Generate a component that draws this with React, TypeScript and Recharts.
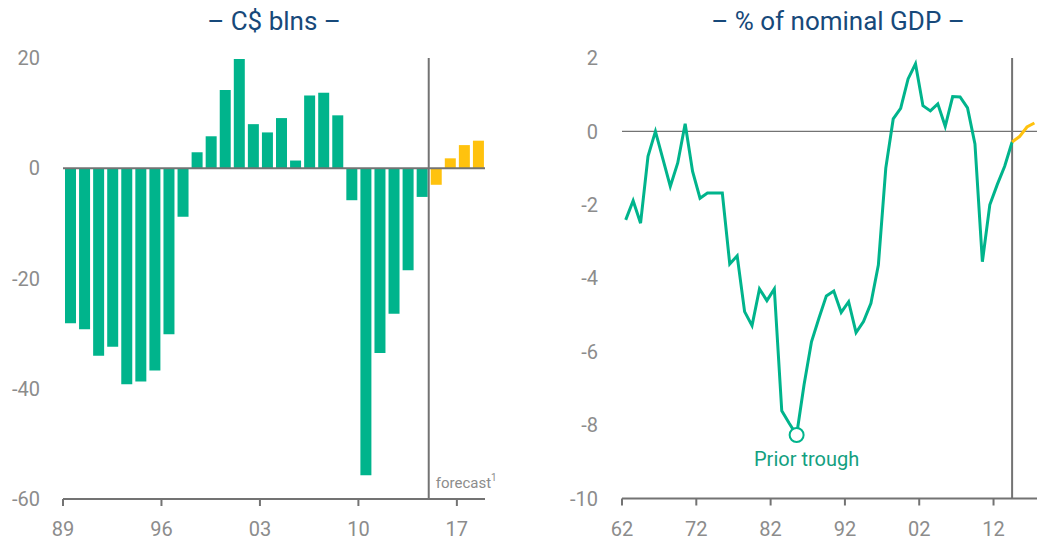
import React from 'react';
import {
  BarChart,
  Bar,
  Cell,
  LineChart,
  Line,
  XAxis,
  YAxis,
  ReferenceLine,
  ReferenceDot,
} from 'recharts';

// left panel: annual balance, C$ blns
const barYears = [
  1989, 1990, 1991, 1992, 1993, 1994, 1995, 1996, 1997, 1998, 1999, 2000, 2001, 2002, 2003,
  2004, 2005, 2006, 2007, 2008, 2009, 2010, 2011, 2012, 2013, 2014, 2015, 2016, 2017, 2018,
];
const balanceBlns = [
  -28.1, -29.2, -34.0, -32.4, -39.2, -38.7, -36.7, -30.1, -8.8, 2.9, 5.8, 14.2, 19.8, 8.0, 6.5,
  9.1, 1.4, 13.2, 13.7, 9.6, -5.8, -55.7, -33.5, -26.4, -18.5, -5.2, -3.0, 1.8, 4.2, 5.0,
];
const barForecastStart = 2015;
const barTicks = [1989, 1996, 2003, 2010, 2017];
const blnsTicks = [-60, -40, -20, 0, 20];

// right panel: balance as % of nominal GDP
const lineYears = [
  1962, 1963, 1964, 1965, 1966, 1967, 1968, 1969, 1970, 1971, 1972, 1973, 1974, 1975, 1976,
  1977, 1978, 1979, 1980, 1981, 1982, 1983, 1984, 1985, 1986, 1987, 1988, 1989, 1990, 1991,
  1992, 1993, 1994, 1995, 1996, 1997, 1998, 1999, 2000, 2001, 2002, 2003, 2004, 2005, 2006,
  2007, 2008, 2009, 2010, 2011, 2012, 2013, 2014, 2015, 2016, 2017,
];
const shareOfGdp = [
  -2.41, -1.89, -2.5, -0.68, 0.0, -0.75, -1.5, -0.86, 0.21, -1.09, -1.82, -1.68, -1.68, -1.68,
  -3.61, -3.39, -4.91, -5.29, -4.29, -4.61, -4.29, -7.61, -7.95, -8.27, -6.9, -5.73, -5.09,
  -4.48, -4.35, -4.93, -4.64, -5.48, -5.18, -4.68, -3.64, -1.0, 0.34, 0.63, 1.43, 1.84, 0.7,
  0.56, 0.75, 0.14, 0.95, 0.94, 0.64, -0.34, -3.55, -2.0, -1.45, -0.95, -0.29, -0.14, 0.12, 0.23,
];
const lineForecastStart = 2014;
const troughYear = 1985;
const lineTicks = [1962, 1972, 1982, 1992, 2002, 2012];
const gdpTicks = [-10, -8, -6, -4, -2, 0, 2];

const GREEN = '#00b48c';
const YELLOW = '#ffc20e';
const AXIS = '#737373';
const TICK = '#8c8c8c';
const TITLE = '#17497a';
const FONT = 'Roboto, "Noto Sans", sans-serif';

const barData = barYears.map((year, i) => ({
  x: year + 0.5,
  value: balanceBlns[i],
  forecast: year >= barForecastStart,
}));

const lineData = lineYears.map((year, i) => ({
  x: year + 0.5,
  actual: year <= lineForecastStart ? shareOfGdp[i] : null,
  forecast: year >= lineForecastStart ? shareOfGdp[i] : null,
}));

const tickStyle = { fill: TICK, fontSize: 20, fontFamily: FONT };
const shortYear = (v: number) => String(Math.round(v)).slice(2);

const ForecastLabel = ({ viewBox }: any) => (
  <text
    x={viewBox.x + 7}
    y={viewBox.y + viewBox.height - 11}
    fill={TICK}
    fontSize={15}
    fontFamily={FONT}
  >
    forecast
    <tspan dy={-7} fontSize={10}>
      1
    </tspan>
  </text>
);

const TroughLabel = ({ viewBox }: any) => (
  <text
    x={viewBox.x + viewBox.width / 2 + 10}
    y={viewBox.y + viewBox.height / 2 + 31}
    fill="#13a07f"
    fontSize={20}
    fontFamily={FONT}
    textAnchor="middle"
  >
    Prior trough
  </text>
);

const Title: React.FC<{ text: string; left: number; width: number }> = ({ text, left, width }) => (
  <div
    style={{
      position: 'absolute',
      left,
      top: 6,
      width,
      textAlign: 'center',
      color: TITLE,
      fontSize: 26,
      lineHeight: '30px',
      fontFamily: FONT,
    }}
  >
    {text}
  </div>
);

const App: React.FC = () => {
  return (
    <div style={{ position: 'absolute', left: 0, top: 0, width: 1037, height: 541, overflow: 'hidden', background: '#fff' }}>
      <Title text="– C$ blns –" left={63} width={422} />
      <Title text="– % of nominal GDP –" left={622} width={432} />

      <div style={{ position: 'absolute', left: 0, top: 0 }}>
        <BarChart
          width={520}
          height={541}
          data={barData}
          margin={{ top: 58, right: 35, bottom: 0, left: 0 }}
        >
          <XAxis
            dataKey="x"
            type="number"
            domain={[1989, 2019]}
            ticks={barTicks}
            tickFormatter={shortYear}
            height={42}
            stroke={AXIS}
            axisLine={{ stroke: AXIS, strokeWidth: 2 }}
            tickLine={{ stroke: AXIS, strokeWidth: 2 }}
            tickSize={7}
            tickMargin={16}
            tick={tickStyle}
          />
          <YAxis
            type="number"
            domain={[-60, 20]}
            ticks={blnsTicks}
            width={63}
            axisLine={false}
            tickLine={false}
            tickSize={6}
            tickMargin={17}
            tick={tickStyle}
          />
          <ReferenceLine y={0} stroke={AXIS} strokeWidth={2} />
          <Bar dataKey="value" barSize={11} isAnimationActive={false}>
            {barData.map((d) => (
              <Cell key={d.x} fill={d.forecast ? YELLOW : GREEN} />
            ))}
          </Bar>
          <ReferenceLine
            x={barForecastStart}
            stroke={AXIS}
            strokeWidth={2}
            label={<ForecastLabel />}
          />
        </BarChart>
      </div>

      <div style={{ position: 'absolute', left: 540, top: 0 }}>
        <LineChart
          width={497}
          height={541}
          data={lineData}
          margin={{ top: 58, right: 0, bottom: 0, left: 0 }}
        >
          <XAxis
            dataKey="x"
            type="number"
            domain={[1962, 2017.85]}
            ticks={lineTicks}
            tickFormatter={shortYear}
            allowDataOverflow
            height={42.5}
            axisLine={{ stroke: AXIS, strokeWidth: 2 }}
            tickLine={{ stroke: AXIS, strokeWidth: 2 }}
            tickSize={7}
            tickMargin={16}
            tick={tickStyle}
          />
          <YAxis
            type="number"
            domain={[-10, 2]}
            ticks={gdpTicks}
            width={82}
            axisLine={false}
            tickLine={false}
            tickSize={6}
            tickMargin={18}
            tick={tickStyle}
          />
          <ReferenceLine y={0} stroke={AXIS} strokeWidth={1.2} />
          <ReferenceLine x={lineForecastStart + 0.5} stroke={AXIS} strokeWidth={2} />
          <Line
            dataKey="actual"
            stroke={GREEN}
            strokeWidth={3}
            dot={false}
            connectNulls={false}
            isAnimationActive={false}
          />
          <Line
            dataKey="forecast"
            stroke={YELLOW}
            strokeWidth={3}
            dot={false}
            isAnimationActive={false}
          />
          <ReferenceDot
            x={troughYear + 0.5}
            y={shareOfGdp[lineYears.indexOf(troughYear)]}
            r={7}
            fill="#fff"
            stroke={GREEN}
            strokeWidth={2}
            label={<TroughLabel />}
          />
        </LineChart>
      </div>
    </div>
  );
};

export default App;
